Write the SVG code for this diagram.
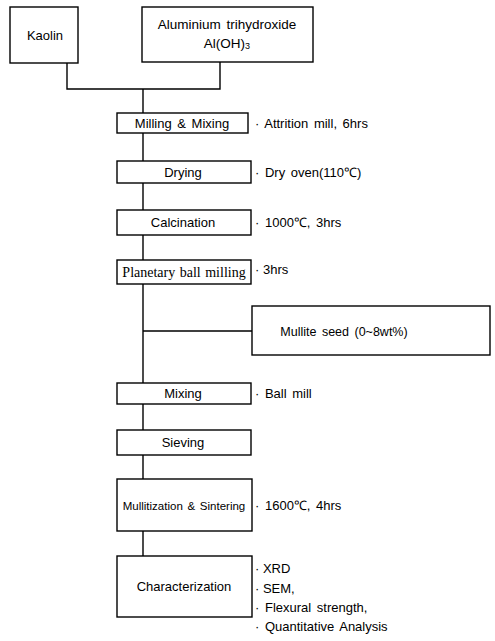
<svg xmlns="http://www.w3.org/2000/svg" width="495" height="641" viewBox="0 0 495 641">
<style>
.box{fill:#fff;stroke:#000;stroke-width:1.4}
.t{font-family:"Liberation Sans",Arial,sans-serif;font-size:13px;fill:#000}
.c{text-anchor:middle}
.s{font-family:"Liberation Serif","Times New Roman",serif;font-size:14px;fill:#000;text-anchor:middle;word-spacing:1px}
.ln{fill:none;stroke:#000;stroke-width:1.4}
</style>
<rect width="495" height="641" fill="#fff"/>
<g id="connectors">
<path class="ln" d="M67,63 V89 H220 V62 M143,89 V113"/>
<path class="ln" d="M143,133 V161 M143,183 V210 M143,235 V260 M143,284 V383 M143,331 H252 M143,404 V430 M143,455 V479 M143,531 V556"/>
</g>
<g id="kaolin"><rect class="box" x="10" y="7" width="68" height="56"/><text class="t c" x="45" y="40">Kaolin</text></g>
<g id="aluminium"><rect class="box" x="142" y="7" width="171" height="55"/><text class="t c" x="227" y="29" style="font-size:13.5px;word-spacing:2px">Aluminium trihydroxide</text><text class="t c" x="227" y="48" style="font-size:13.5px">Al(OH)<tspan font-size="9" dy="1">3</tspan></text></g>
<g id="milling"><rect class="box" x="117" y="113" width="131" height="20"/><text class="t c" x="182" y="128" style="word-spacing:2px">Milling &amp; Mixing</text><text class="t" x="255" y="128" style="word-spacing:2px">· Attrition mill, 6hrs</text></g>
<g id="drying"><rect class="box" x="117" y="161" width="134" height="22"/><text class="t c" x="183" y="177">Drying</text><text class="t" x="255" y="177" style="word-spacing:2px">· Dry oven(110℃)</text></g>
<g id="calcination"><rect class="box" x="117" y="210" width="134" height="25"/><text class="t c" x="183" y="227">Calcination</text><text class="t" x="255" y="227" style="word-spacing:2px">· 1000℃, 3hrs</text></g>
<g id="planetary"><rect class="box" x="117" y="260" width="134" height="24"/><text class="s" x="184" y="277">Planetary ball milling</text><text class="t" x="255" y="274">· 3hrs</text></g>
<g id="mullite-seed"><rect class="box" x="252" y="306" width="238" height="49"/><text class="t c" x="344" y="336" style="font-size:12.5px;word-spacing:2px">Mullite seed (0~8wt%)</text></g>
<g id="mixing"><rect class="box" x="117" y="383" width="134" height="21"/><text class="t c" x="183" y="398">Mixing</text><text class="t" x="255" y="398" style="word-spacing:2px">· Ball mill</text></g>
<g id="sieving"><rect class="box" x="117" y="430" width="134" height="25"/><text class="t c" x="183" y="447">Sieving</text></g>
<g id="mullitization"><rect class="box" x="117" y="479" width="135" height="52"/><text class="t c" x="184" y="510" style="font-size:11.5px;word-spacing:1.5px">Mullitization &amp; Sintering</text><text class="t" x="255" y="510" style="word-spacing:2px">· 1600℃, 4hrs</text></g>
<g id="characterization"><rect class="box" x="117" y="556" width="135" height="61"/><text class="t c" x="184" y="591">Characterization</text><text class="t" x="255" y="573">· XRD</text><text class="t" x="255" y="593">· SEM,</text><text class="t" x="255" y="612" style="word-spacing:2px">· Flexural strength,</text><text class="t" x="255" y="631" style="word-spacing:2px">· Quantitative Analysis</text></g>
</svg>
